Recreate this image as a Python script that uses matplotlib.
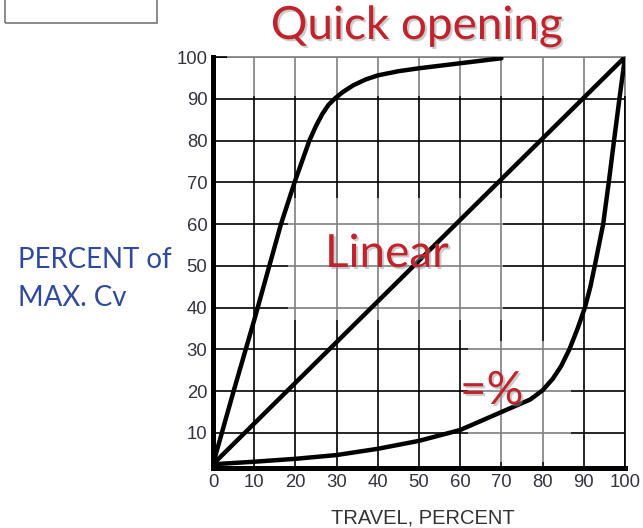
import matplotlib.pyplot as plt
import matplotlib.patheffects as pe
from matplotlib.patches import Rectangle

# curve values
quick_x = [0, 5, 10, 16.5, 19.8, 23.4, 25, 26.5, 28, 29.5, 31.5, 34, 37, 40, 45, 50, 60, 70]
quick_y = [2.5, 20, 37, 60, 70, 80, 83.5, 86.3, 88.5, 90, 91.6, 93.2, 94.6, 95.6, 96.6, 97.3, 98.5, 99.7]

linear_x = [0, 100]
linear_y = [2.5, 100]

eq_x = [0, 10, 20, 30, 40, 50, 60, 70, 77, 80, 82.5, 84.5, 86.5, 88.5, 90.3, 91.6, 92.7,
        94.7, 96.1, 97.4, 98.7, 100]
eq_y = [2.5, 3.1, 3.8, 4.7, 6.2, 8.1, 10.7, 15, 18, 20.2, 23, 26, 30, 35, 40.1, 45, 50.2,
        60, 70.3, 80.5, 90.4, 100]

x_ticks = list(range(0, 101, 10))
y_ticks = list(range(10, 101, 10))

RED = '#c0232b'
BLUE = '#2f4a9b'
TICK = '#33333f'
W, H = 643, 528

fig = plt.figure(figsize=(W / 100, H / 100), dpi=100)
ax = fig.add_axes([213 / W, 60 / H, 412 / W, 411 / H])

for xs, ys in [(quick_x, quick_y), (linear_x, linear_y), (eq_x, eq_y)]:
    ax.plot(xs, ys, color='black', lw=3.2, solid_capstyle='round',
            solid_joinstyle='round', zorder=3)

ax.set_xlim(0, 100)
ax.set_ylim(1.6, 100)
ax.set_xticks(x_ticks)
ax.set_yticks(y_ticks)
ax.set_xticklabels([str(v) for v in x_ticks], family='Liberation Sans', fontsize=13.3, color=TICK)
ax.set_yticklabels([str(v) for v in y_ticks], family='Liberation Sans', fontsize=13.3, color=TICK)
ax.tick_params(length=0, pad=4)
ax.grid(True, color='black', lw=1.2)
ax.set_axisbelow(True)

for side in ['left', 'bottom']:
    ax.spines[side].set_linewidth(3.6)
for side in ['top', 'right']:
    ax.spines[side].set_linewidth(1.2)
    ax.spines[side].set_zorder(0.6)

# faded patches where the slide's text boxes sit over the grid
for (x0, y0, w, h) in [(3.5, 90.6, 97.5, 10.5), (18.2, 37, 52.2, 29.2), (62, 3, 25, 29)]:
    ax.add_patch(Rectangle((x0, y0), w, h, facecolor='white', alpha=0.5,
                           edgecolor='none', zorder=1, clip_on=False))

ax.set_xlabel('TRAVEL, PERCENT', family='Liberation Sans', fontsize=14.5, color='#333333')
ax.xaxis.set_label_coords(423 / W, 4 / H, transform=fig.transFigure)
ax.xaxis.label.set_va('baseline')

shadow = [pe.SimplePatchShadow(offset=(1.5, -1.5), shadow_rgbFace='#999999', alpha=0.5), pe.Normal()]
fig.text(417 / W, 1 - 39 / H, 'Quick opening', family='Lato', fontsize=33, color=RED,
         ha='center', va='baseline', path_effects=shadow)
fig.text(325 / W, 1 - 267 / H, 'Linear', family='Lato', fontsize=33, color=RED,
         ha='left', va='baseline', path_effects=shadow)
fig.text(460 / W, 1 - 404 / H, '=%', family='Lato', fontsize=33, color=RED,
         ha='left', va='baseline', path_effects=shadow)

fig.text(18 / W, 1 - 268 / H, 'PERCENT of', family='Lato', fontsize=19.9, color=BLUE,
         ha='left', va='baseline')
fig.text(18 / W, 1 - 306 / H, 'MAX. Cv', family='Lato', fontsize=19.9, color=BLUE,
         ha='left', va='baseline')

fig.add_artist(Rectangle((5 / W, 1 - 23 / H), 152 / W, 40 / H, transform=fig.transFigure,
                         facecolor='none', edgecolor='#777777', lw=1.2))

fig.savefig('out.png', dpi=100)
